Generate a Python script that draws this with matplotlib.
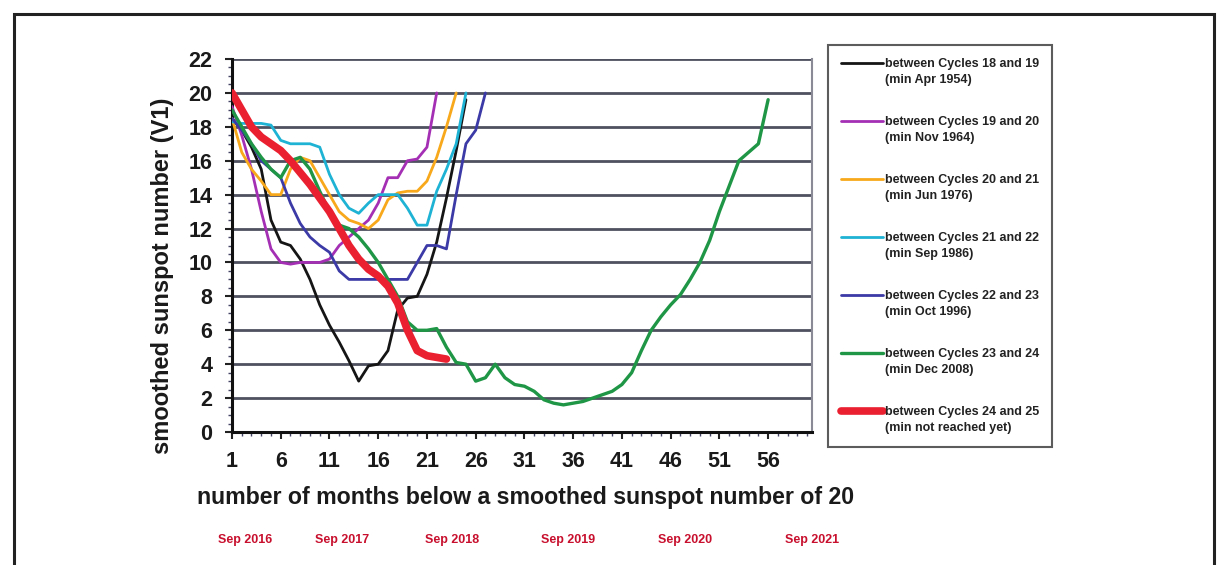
import numpy as np
import matplotlib
matplotlib.use("Agg")
import matplotlib.pyplot as plt
from matplotlib.patches import Rectangle
from matplotlib.legend_handler import HandlerLine2D
from matplotlib.ticker import MultipleLocator, FixedLocator

# ---------------- data ----------------
cycle_18_19 = [18.5, 17.8, 16.8, 15.5, 12.5, 11.2, 11.0, 10.2, 9.0, 7.5,
               6.3, 5.3, 4.2, 3.0, 3.9, 4.0, 4.8, 7.2, 7.9, 8.0,
               9.3, 11.2, 13.8, 16.6, 19.6]
cycle_19_20 = [19.2, 17.5, 15.5, 13.0, 10.8, 10.0, 9.9, 10.0, 10.0, 10.0,
               10.2, 11.0, 11.5, 12.0, 12.5, 13.5, 15.0, 15.0, 16.0, 16.1,
               16.8, 20.0]
cycle_20_21 = [18.5, 16.5, 15.5, 14.8, 14.0, 14.0, 15.5, 16.2, 16.0, 15.0,
               14.0, 13.0, 12.5, 12.3, 12.0, 12.5, 13.7, 14.1, 14.2, 14.2,
               14.8, 16.2, 18.0, 20.0]
cycle_21_22 = [18.3, 18.2, 18.2, 18.2, 18.1, 17.2, 17.0, 17.0, 17.0, 16.8,
               15.2, 14.0, 13.2, 12.9, 13.5, 14.0, 14.0, 14.0, 13.2, 12.2,
               12.2, 14.2, 15.5, 17.0, 20.0]
cycle_22_23 = [18.5, 17.8, 17.0, 16.0, 15.5, 15.0, 13.5, 12.3, 11.5, 11.0,
               10.6, 9.5, 9.0, 9.0, 9.0, 9.0, 9.0, 9.0, 9.0, 10.0,
               11.0, 11.0, 10.8, 14.0, 17.0, 17.8, 20.0]
cycle_23_24 = [19.0, 18.0, 17.0, 16.2, 15.5, 15.0, 16.0, 16.2, 15.5, 14.2,
               13.0, 12.2, 12.0, 11.5, 10.8, 10.0, 9.0, 8.0, 6.5, 6.0,
               6.0, 6.1, 5.0, 4.1, 4.0, 3.0, 3.2, 4.0, 3.2, 2.8,
               2.7, 2.4, 1.9, 1.7, 1.6, 1.7, 1.8, 2.0, 2.2, 2.4,
               2.8, 3.5, 4.8, 6.0, 6.8, 7.5, 8.1, 9.0, 10.0, 11.3,
               13.0, 14.5, 16.0, 16.5, 17.0, 19.6]
cycle_24_25 = [20.0, 19.0, 18.0, 17.4, 17.0, 16.6, 16.0, 15.3, 14.6, 13.8,
               13.0, 12.0, 11.0, 10.2, 9.6, 9.2, 8.6, 7.6, 6.0, 4.8,
               4.5, 4.4, 4.3]

series_values = [cycle_18_19, cycle_19_20, cycle_20_21, cycle_21_22,
                 cycle_22_23, cycle_23_24, cycle_24_25]
series_labels = ["between Cycles 18 and 19\n(min Apr 1954)",
                 "between Cycles 19 and 20\n(min Nov 1964)",
                 "between Cycles 20 and 21\n(min Jun 1976)",
                 "between Cycles 21 and 22\n(min Sep 1986)",
                 "between Cycles 22 and 23\n(min Oct 1996)",
                 "between Cycles 23 and 24\n(min Dec 2008)",
                 "between Cycles 24 and 25\n(min not reached yet)"]
x_tick_months = [1, 6, 11, 16, 21, 26, 31, 36, 41, 46, 51, 56]
y_ticks = [0, 2, 4, 6, 8, 10, 12, 14, 16, 18, 20, 22]
date_labels = ["Sep 2016", "Sep 2017", "Sep 2018", "Sep 2019", "Sep 2020", "Sep 2021"]
date_months = [2.3, 12.3, 23.6, 35.5, 47.5, 60.5]

# ---------------- styles ----------------
colors = ["#151515", "#A42FB4", "#F7A81B", "#1EB2D4", "#3B3AA6", "#1F9645", "#EA2030"]
widths = [2.0, 2.0, 2.0, 2.0, 2.0, 2.4, 5.5]
BOLD = "bold"
plt.rcParams["font.family"] = ["Liberation Sans", "DejaVu Sans"]

fig = plt.figure(figsize=(12.28, 5.65), dpi=100)
fig.patch.set_facecolor("white")
W, H = 1228.0, 565.0
ax = fig.add_axes([232 / W, 1 - 432 / H, (812 - 232) / W, (432 - 59) / H])

for vals, c, lw, lab in zip(series_values, colors, widths, series_labels):
    months = np.arange(1, len(vals) + 1)
    ax.plot(months, vals, color=c, lw=lw, label=lab, solid_capstyle="round",
            solid_joinstyle="round", zorder=3)

ax.set_xlim(1, 60.5)
ax.set_ylim(0, 22)
ax.xaxis.set_major_locator(FixedLocator(x_tick_months))
ax.xaxis.set_minor_locator(MultipleLocator(1))
ax.yaxis.set_major_locator(FixedLocator(y_ticks))
ax.yaxis.set_minor_locator(MultipleLocator(0.5))
ax.tick_params(axis="both", which="major", labelsize=15.5, length=5, width=1.5,
               direction="out", color="#222222")
ax.tick_params(axis="x", which="major", pad=9)
ax.tick_params(axis="y", which="major", pad=9)
ax.tick_params(axis="both", which="minor", length=3, width=1.0, color="#444466")
for lbl in ax.get_xticklabels() + ax.get_yticklabels():
    lbl.set_fontweight(BOLD)
    lbl.set_color("#1a1a1a")

ax.yaxis.grid(True, which="major", color="#4f5060", lw=2.0, zorder=1)
ax.set_axisbelow(True)
ax.spines["left"].set_linewidth(2.2)
ax.spines["left"].set_color("#111111")
ax.spines["bottom"].set_linewidth(2.2)
ax.spines["bottom"].set_color("#111111")
ax.spines["right"].set_color("#8a8a96")
ax.spines["right"].set_linewidth(1.5)
ax.spines["top"].set_visible(False)

ax.set_ylabel("smoothed sunspot number (V1)", fontsize=17, fontweight=BOLD, color="#1a1a1a")
ax.yaxis.set_label_coords(-0.100, 0.418)
ax.set_xlabel("number of months below a smoothed sunspot number of 20",
              fontsize=16.7, fontweight=BOLD, color="#1a1a1a")
ax.xaxis.set_label_coords(0.507, -0.145)

for lab, m in zip(date_labels, date_months):
    ax.text(m, -0.29, lab, transform=ax.get_xaxis_transform(), ha="center", va="center",
            fontsize=9, fontweight=BOLD, color="#C8102E", clip_on=False)


class FirstLineHandler(HandlerLine2D):
    def create_artists(self, legend, orig_handle, xdescent, ydescent, width, height,
                       fontsize, trans):
        shift = fontsize * 1.45
        return super().create_artists(legend, orig_handle, xdescent, ydescent - shift,
                                      width, height, fontsize, trans)


handles, labels = ax.get_legend_handles_labels()
leg = fig.legend(handles, labels, loc="upper left",
                 bbox_to_anchor=(828 / W, 1 - 45 / H), borderaxespad=0,
                 frameon=True, fancybox=False, handlelength=3.4, handletextpad=0.15,
                 labelspacing=2.36, borderpad=1.0,
                 prop={"weight": "bold", "size": 9},
                 handler_map={h: FirstLineHandler() for h in handles})
leg.get_frame().set_edgecolor("#333333")
leg.get_frame().set_linewidth(1.5)
for t in leg.get_texts():
    t.set_color("#222222")
    t.set_linespacing(1.5)

fig.add_artist(Rectangle((14 / W, -0.05), (1214 - 14) / W, 1.05 - 14 / H,
                         transform=fig.transFigure, fill=False, edgecolor="#222222",
                         lw=2.2))

fig.savefig("out.png", dpi=100, facecolor="white")
